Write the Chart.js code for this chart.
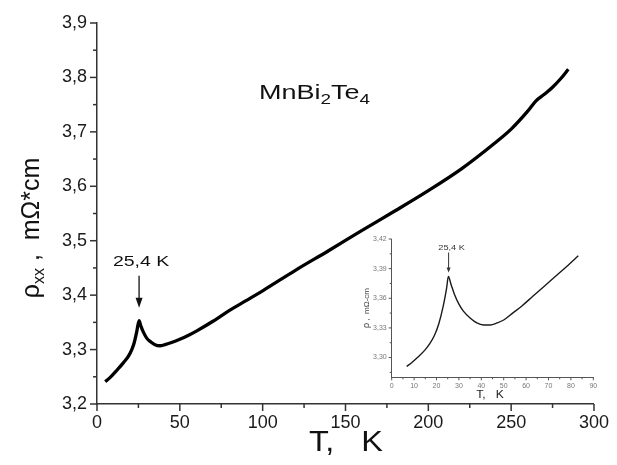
<!DOCTYPE html>
<html><head><meta charset="utf-8">
<script src="https://cdn.jsdelivr.net/npm/chart.js@4.4.0/dist/chart.umd.min.js"></script>
<style>
html,body{margin:0;padding:0;background:#fff;}
#wrap{position:relative;width:617px;height:465px;overflow:hidden;}
#main{position:absolute;left:0;top:0;}
#inset{position:absolute;left:350px;top:228px;}
</style></head><body>
<div id="wrap"><canvas id="main" width="617" height="465"></canvas><canvas id="inset" width="260" height="185"></canvas></div>
<script>
// ---- main data ----
const mainT   = [5, 8, 12, 16, 19, 21, 22.5, 24, 25.4, 26.5, 28, 30, 32.5, 35, 38, 41, 45, 50, 55, 60, 70, 80, 90, 100, 120, 140, 160, 180, 200, 220, 240, 250, 260, 265, 270, 275, 280, 284.5];
const mainRho = [3.241, 3.249, 3.262, 3.276, 3.288, 3.300, 3.313, 3.333, 3.353, 3.343, 3.332, 3.321, 3.314, 3.309, 3.307, 3.309, 3.313, 3.319, 3.326, 3.334, 3.352, 3.372, 3.390, 3.408, 3.446, 3.482, 3.519, 3.555, 3.592, 3.632, 3.679, 3.705, 3.738, 3.757, 3.769, 3.782, 3.798, 3.815];
const mainXTicks = [0, 50, 100, 150, 200, 250, 300];
const mainYTicks = [3.2, 3.3, 3.4, 3.5, 3.6, 3.7, 3.8, 3.9];
// ---- inset data ----
const insetT   = [6.7, 9, 12, 15, 17, 19, 21, 23, 24.5, 25.3, 26.5, 28, 30, 32, 35, 38, 41, 44, 47, 50, 54, 58, 63, 68, 73, 78, 83.3];
const insetRho = [3.291, 3.295, 3.301, 3.308, 3.314, 3.322, 3.334, 3.352, 3.370, 3.382, 3.374, 3.364, 3.354, 3.347, 3.340, 3.335, 3.333, 3.333, 3.335, 3.338, 3.345, 3.352, 3.362, 3.372, 3.382, 3.392, 3.403];
const insetXTicks = [0, 10, 20, 30, 40, 50, 60, 70, 80, 90];
const insetYTicks = [3.30, 3.33, 3.36, 3.39, 3.42];
// ---- annotation ----
const peakT = 25.4, peakRho = 3.353, insetPeakRho = 3.382;
const peakLabel = '25,4 K';

const FF = "'Liberation Sans', Arial, sans-serif";

function drawPieces(ctx, pieces, x, y, sx, align) {
  let w = 0;
  pieces.forEach(p => { ctx.font = p[1] + 'px ' + FF; w += ctx.measureText(p[0]).width; });
  ctx.save();
  ctx.translate(x, y);
  ctx.scale(sx, 1);
  let cx = align === 'center' ? -w / 2 : 0;
  ctx.textAlign = 'left';
  ctx.textBaseline = 'alphabetic';
  pieces.forEach(p => {
    ctx.font = p[1] + 'px ' + FF;
    ctx.fillText(p[0], cx, p[2]);
    cx += ctx.measureText(p[0]).width;
  });
  ctx.restore();
}

function arrow(ctx, x, y0, y1, hl, hw) {
  ctx.beginPath(); ctx.moveTo(x, y0); ctx.lineTo(x, y1 - hl + 1); ctx.stroke();
  ctx.beginPath(); ctx.moveTo(x, y1); ctx.lineTo(x - hw / 2, y1 - hl); ctx.lineTo(x + hw / 2, y1 - hl); ctx.closePath(); ctx.fill();
}

const mainDecor = {
  id: 'mainDecor',
  afterDraw(chart) {
    const ctx = chart.ctx, xs = chart.scales.x, ys = chart.scales.y;
    const ca = chart.chartArea;
    ctx.save();
    ctx.strokeStyle = '#333'; ctx.lineWidth = 1.5;
    for (let i = 0; i < mainYTicks.length; i++) {
      const p = ys.getPixelForValue(mainYTicks[i]);
      ctx.beginPath(); ctx.moveTo(ca.left - 7, p); ctx.lineTo(ca.left, p); ctx.stroke();
      if (i < mainYTicks.length - 1) {
        const m = ys.getPixelForValue((mainYTicks[i] + mainYTicks[i + 1]) / 2);
        ctx.beginPath(); ctx.moveTo(ca.left - 4, m); ctx.lineTo(ca.left, m); ctx.stroke();
      }
    }
    for (let i = 0; i < mainXTicks.length; i++) {
      const p = xs.getPixelForValue(mainXTicks[i]);
      ctx.beginPath(); ctx.moveTo(p, ca.bottom); ctx.lineTo(p, ca.bottom + 7); ctx.stroke();
      if (i < mainXTicks.length - 1) {
        const m = xs.getPixelForValue((mainXTicks[i] + mainXTicks[i + 1]) / 2);
        ctx.beginPath(); ctx.moveTo(m, ca.bottom); ctx.lineTo(m, ca.bottom + 4); ctx.stroke();
      }
    }
    ctx.fillStyle = '#111';
    drawPieces(ctx, [['T,   K', 29, 0]], 346, 451, 1.12, 'center');
    ctx.save();
    ctx.translate(39, 228);
    ctx.rotate(-Math.PI / 2);
    drawPieces(ctx, [['\u03C1', 25, 0], ['xx', 16, 5], [' ,  m\u03A9*cm', 25, 0]], 0, 0, 1.0, 'center');
    ctx.restore();
    drawPieces(ctx, [['MnBi', 20, 0], ['2', 14, 5], ['Te', 20, 0], ['4', 14, 5]], 259, 99, 1.35, 'left');
    const px = xs.getPixelForValue(peakT), py = ys.getPixelForValue(peakRho);
    drawPieces(ctx, [[peakLabel, 15, 0]], px + 2, py - 55, 1.3, 'center');
    ctx.strokeStyle = '#111'; ctx.lineWidth = 1.3;
    arrow(ctx, px, py - 45, py - 13, 10, 7);
    ctx.restore();
  }
};

const insetDecor = {
  id: 'insetDecor',
  afterDraw(chart) {
    const ctx = chart.ctx, xs = chart.scales.x, ys = chart.scales.y;
    const ca = chart.chartArea;
    ctx.save();
    ctx.strokeStyle = '#555'; ctx.lineWidth = 1;
    for (let i = 0; i < insetYTicks.length; i++) {
      const p = ys.getPixelForValue(insetYTicks[i]);
      ctx.beginPath(); ctx.moveTo(ca.left - 3, p); ctx.lineTo(ca.left, p); ctx.stroke();
      const m = ys.getPixelForValue(insetYTicks[i] - 0.015);
      if (m < ca.bottom) { ctx.beginPath(); ctx.moveTo(ca.left - 2, m); ctx.lineTo(ca.left, m); ctx.stroke(); }
    }
    for (let i = 0; i < insetXTicks.length; i++) {
      const p = xs.getPixelForValue(insetXTicks[i]);
      ctx.beginPath(); ctx.moveTo(p, ca.bottom); ctx.lineTo(p, ca.bottom + 3); ctx.stroke();
      if (i < insetXTicks.length - 1) {
        const m = xs.getPixelForValue((insetXTicks[i] + insetXTicks[i + 1]) / 2);
        ctx.beginPath(); ctx.moveTo(m, ca.bottom); ctx.lineTo(m, ca.bottom + 2); ctx.stroke();
      }
    }
    ctx.fillStyle = '#222';
    drawPieces(ctx, [['T,   K', 11, 0]], 140, 170, 1.1, 'center');
    ctx.save();
    ctx.translate(19, 80);
    ctx.rotate(-Math.PI / 2);
    ctx.fillStyle = '#444';
    drawPieces(ctx, [['\u03C1', 9, 0], [' ,  m\u03A9-cm', 8, 0]], 0, 0, 1.0, 'center');
    ctx.restore();
    const px = xs.getPixelForValue(peakT), py = ys.getPixelForValue(insetPeakRho);
    ctx.fillStyle = '#333';
    drawPieces(ctx, [[peakLabel, 8, 0]], px + 3, py - 27, 1.15, 'center');
    ctx.strokeStyle = '#333'; ctx.lineWidth = 1;
    arrow(ctx, px, py - 24, py - 4, 5, 4);
    ctx.restore();
  }
};

new Chart(document.getElementById('main'), {
  type: 'scatter',
  data: { datasets: [{ data: mainT.map((t, i) => ({ x: t, y: mainRho[i] })), showLine: true, borderColor: '#000', borderWidth: 3.3, pointRadius: 0, cubicInterpolationMode: 'monotone', fill: false }] },
  options: {
    responsive: false, animation: false, devicePixelRatio: 1,
    layout: { padding: { top: 23, right: 19, left: 0, bottom: 0 } },
    plugins: { legend: { display: false }, tooltip: { enabled: false } },
    scales: {
      x: {
        type: 'linear', min: 0, max: 300,
        afterBuildTicks: s => { s.ticks = mainXTicks.map(v => ({ value: v })); },
        afterFit: s => { s.height = 61; },
        grid: { display: false, drawTicks: false },
        border: { display: true, color: '#333', width: 1.5 },
        ticks: { padding: 8, color: '#1a1a1a', font: { size: 18, family: FF }, maxRotation: 0, callback: v => String(v) }
      },
      y: {
        type: 'linear', min: 3.2, max: 3.9,
        afterBuildTicks: s => { s.ticks = mainYTicks.map(v => ({ value: v })); },
        afterFit: s => { s.width = 97; },
        grid: { display: false, drawTicks: false },
        border: { display: true, color: '#333', width: 1.5 },
        ticks: { padding: 10, color: '#1a1a1a', font: { size: 18, family: FF }, callback: v => v.toFixed(1).replace('.', ',') }
      }
    }
  },
  plugins: [mainDecor]
});

new Chart(document.getElementById('inset'), {
  type: 'scatter',
  data: { datasets: [{ data: insetT.map((t, i) => ({ x: t, y: insetRho[i] })), showLine: true, borderColor: '#1a1a1a', borderWidth: 1.4, pointRadius: 0, cubicInterpolationMode: 'monotone', fill: false }] },
  options: {
    responsive: false, animation: false, devicePixelRatio: 1,
    layout: { padding: { top: 11, right: 16.7, left: 0, bottom: 0 } },
    plugins: { legend: { display: false }, tooltip: { enabled: false } },
    scales: {
      x: {
        type: 'linear', min: 0, max: 90,
        afterBuildTicks: s => { s.ticks = insetXTicks.map(v => ({ value: v })); },
        afterFit: s => { s.height = 35.7; },
        grid: { display: false, drawTicks: false },
        border: { display: true, color: '#555', width: 1 },
        ticks: { padding: 5, color: '#777', font: { size: 7, family: FF }, maxRotation: 0, autoSkip: false, callback: v => String(v) }
      },
      y: {
        type: 'linear', min: 3.28, max: 3.42,
        afterBuildTicks: s => { s.ticks = insetYTicks.map(v => ({ value: v })); },
        afterFit: s => { s.width = 41.7; },
        grid: { display: false, drawTicks: false },
        border: { display: true, color: '#555', width: 1 },
        ticks: { padding: 5, color: '#777', font: { size: 7, family: FF }, callback: v => v.toFixed(2).replace('.', ',') }
      }
    }
  },
  plugins: [insetDecor]
});
</script>
</body></html>
